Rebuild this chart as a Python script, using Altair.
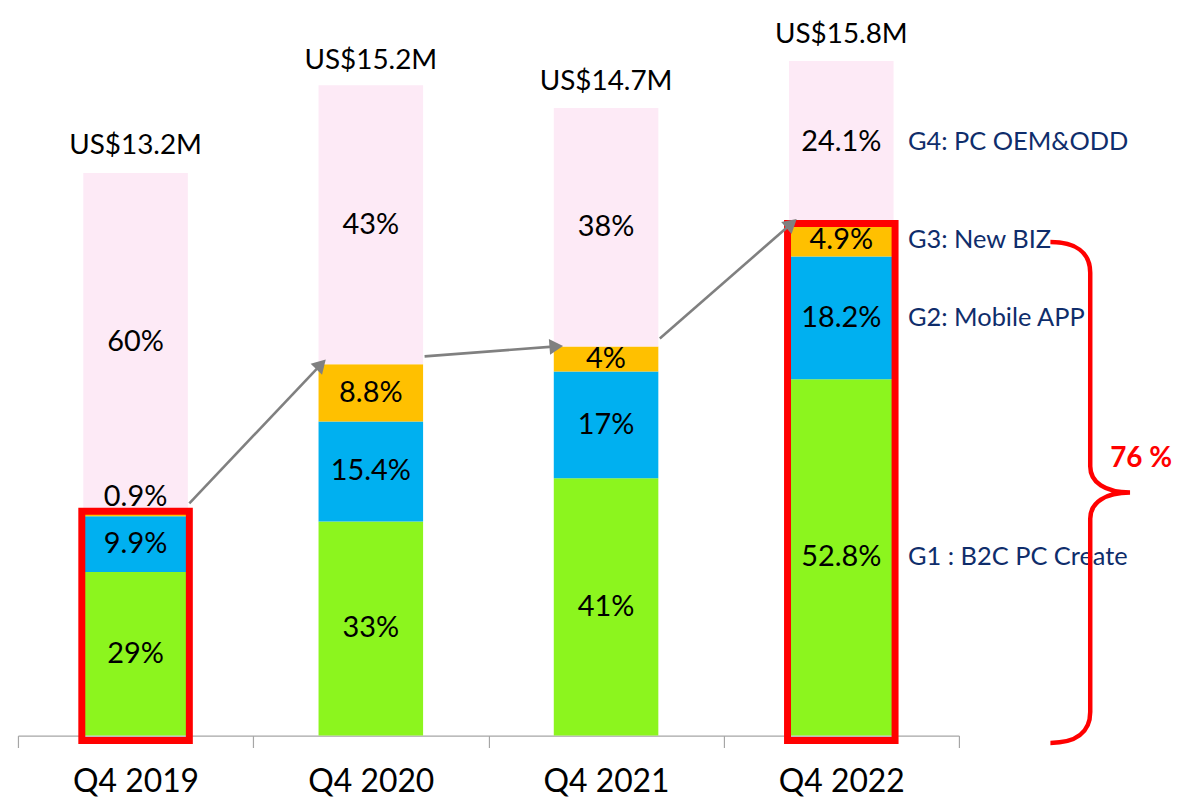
import math
import altair as alt
import pandas as pd

# ---- data ----
quarters = ["Q4 2019", "Q4 2020", "Q4 2021", "Q4 2022"]
totals = [13.2, 15.2, 14.7, 15.8]          # US$ M
total_labels = ["US$13.2M", "US$15.2M", "US$14.7M", "US$15.8M"]
groups = ["G1", "G2", "G3", "G4"]
g1_pct = [29, 33, 41, 52.8]
g2_pct = [9.9, 15.4, 17, 18.2]
g3_pct = [0.9, 8.8, 4, 4.9]
g4_pct = [60, 43, 38, 24.1]
series_labels = ["G1 : B2C PC Create", "G2: Mobile APP", "G3: New BIZ", "G4: PC OEM&ODD"]
highlighted = ["Q4 2019", "Q4 2022"]
brace_label = "76 %"

colors = ["#8CF51E", "#00B0F0", "#FFC000", "#FDEAF6"]
FONT = "Lato"
Y_MAX = 17
PLOT_W, PLOT_H = 945, 729
PPU = PLOT_H / Y_MAX
STEP = PLOT_W / len(quarters)

# ---- build tables ----
rows = []
pcts = [g1_pct, g2_pct, g3_pct, g4_pct]
for qi, q in enumerate(quarters):
    base = 0.0
    for gi, g in enumerate(groups):
        p = pcts[gi][qi]
        v = totals[qi] * p / 100
        rows.append(dict(quarter=q, group=g, order=gi, y0=base, y1=base + v,
                         mid=base + v / 2, label=f"{p:g}%",
                         series=series_labels[gi], pct=p))
        base += v
seg = pd.DataFrame(rows)

tot = pd.DataFrame(dict(quarter=quarters, total=totals, label=total_labels))

cum3 = [totals[i] * (g1_pct[i] + g2_pct[i] + g3_pct[i]) / 100 for i in range(len(quarters))]
box = pd.DataFrame(dict(quarter=quarters, top=cum3))
box = box[box.quarter.isin(highlighted)]

X_OFF_START, X_OFF_END, Y_OFF_START = 54, -50, -8
arr_rows = []
for i in range(len(quarters) - 1):
    dx = STEP + X_OFF_END - X_OFF_START
    dy_screen = -(cum3[i + 1] - cum3[i]) * PPU - Y_OFF_START
    ang = math.degrees(math.atan2(dx, -dy_screen))
    arr_rows.append(dict(q_from=quarters[i], q_to=quarters[i + 1],
                         y_from=cum3[i], y_to=cum3[i + 1], angle=ang))
arr = pd.DataFrame(arr_rows)

brace = pd.DataFrame(dict(quarter=[quarters[-1]], ymid=[cum3[-1] / 2], label=[brace_label]))

# ---- encodings ----
xscale = alt.Scale(domain=quarters, paddingInner=0, paddingOuter=0)
yscale = alt.Scale(domain=[0, Y_MAX])
X = alt.X("quarter:N", scale=xscale,
          axis=alt.Axis(title=None, labelAngle=0, tickBand="extent", tickSize=12,
                        domainColor="#A6A6A6", tickColor="#A6A6A6", labelFontSize=32,
                        labelFont=FONT, labelColor="#000000", labelPadding=19,
                        domainWidth=1.2, tickWidth=1.2))

bars = alt.Chart(seg).mark_bar(width=105).encode(
    x=X,
    y=alt.Y("y1:Q", scale=yscale, axis=None),
    y2="y0:Q",
    color=alt.Color("group:N", scale=alt.Scale(domain=groups, range=colors), legend=None),
)

pct_text = alt.Chart(seg).transform_filter("datum.pct >= 1").mark_text(
    font=FONT, fontSize=29, color="#000000", baseline="middle").encode(
    x=alt.X("quarter:N", scale=xscale), y=alt.Y("mid:Q", scale=yscale), text="label:N")

pct_small = alt.Chart(seg).transform_filter("datum.pct < 1").mark_text(
    font=FONT, fontSize=29, color="#000000", baseline="middle", dy=-17).encode(
    x=alt.X("quarter:N", scale=xscale), y=alt.Y("mid:Q", scale=yscale), text="label:N")

tot_text = alt.Chart(tot).mark_text(
    font=FONT, fontSize=28, color="#000000", baseline="middle", dy=-26).encode(
    x=alt.X("quarter:N", scale=xscale), y=alt.Y("total:Q", scale=yscale), text="label:N")

boxes = alt.Chart(box).mark_bar(width=108, fillOpacity=0, stroke="#FF0000",
                                strokeWidth=7, y2Offset=5).encode(
    x=alt.X("quarter:N", scale=xscale), y=alt.Y("top:Q", scale=yscale), y2=alt.datum(0))

arrow_lines = alt.Chart(arr).mark_rule(color="#808080", strokeWidth=2.6,
                                       xOffset=X_OFF_START, x2Offset=X_OFF_END,
                                       yOffset=Y_OFF_START).encode(
    x=alt.X("q_from:N", scale=xscale), x2="q_to:N",
    y=alt.Y("y_from:Q", scale=yscale), y2="y_to:Q")

arrow_heads = alt.Chart(arr).mark_point(shape="triangle-up", filled=True, opacity=1,
                                        color="#808080", size=250,
                                        xOffset=X_OFF_END).encode(
    x=alt.X("q_to:N", scale=xscale), y=alt.Y("y_to:Q", scale=yscale),
    angle=alt.Angle("angle:Q", scale=None))

series_text = alt.Chart(seg).transform_filter(
    alt.FieldEqualPredicate(field="quarter", equal=quarters[-1])).mark_text(
    font=FONT, fontSize=25.5, color="#0F2D6B", align="left", baseline="middle",
    xOffset=67).encode(
    x=alt.X("quarter:N", scale=xscale), y=alt.Y("mid:Q", scale=yscale), text="series:N")

BRACE_PATH = ("M -0.159 -1 C -0.06 -1 0 -0.96 0 -0.877 L 0 -0.105 "
              "C 0 -0.04 0.06 0 0.159 0 C 0.06 0 0 0.04 0 0.105 "
              "L 0 0.877 C 0 0.96 -0.06 1 -0.159 1")
brace_mark = alt.Chart(brace).mark_point(shape=BRACE_PATH, filled=False, opacity=1,
                                         stroke="#FF0000", strokeWidth=4.5,
                                         size=503 * 503, xOffset=250, yOffset=13).encode(
    x=alt.X("quarter:N", scale=xscale), y=alt.Y("ymid:Q", scale=yscale))

brace_text = alt.Chart(brace).mark_text(font=FONT, fontSize=28, fontWeight="bold",
                                        color="#FF0000", align="left", baseline="middle",
                                        xOffset=270, yOffset=-21).encode(
    x=alt.X("quarter:N", scale=xscale), y=alt.Y("ymid:Q", scale=yscale), text="label:N")

chart = alt.layer(bars, boxes, pct_text, pct_small, tot_text, arrow_lines, arrow_heads,
                  series_text, brace_mark, brace_text).properties(
    width=PLOT_W, height=PLOT_H,
    background="#FFFFFF",
    autosize=alt.AutoSizeParams(type="none"),
    padding={"left": 10, "top": 0, "right": 215, "bottom": 62},
).configure_view(strokeWidth=0, stroke="transparent")

chart.save("out.html", embed_options={"renderer": "svg", "actions": False})
